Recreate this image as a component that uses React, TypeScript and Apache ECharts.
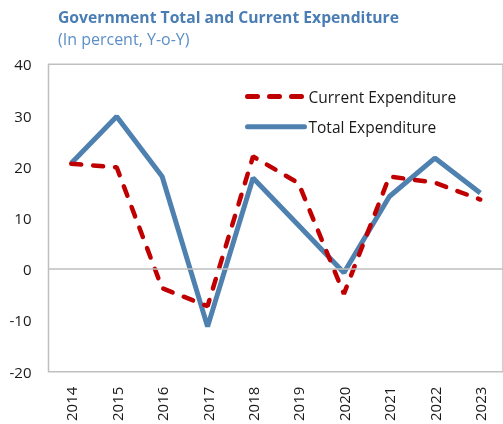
import React, { useEffect, useRef } from "react";
import * as echarts from "echarts";

const years = ["2014", "2015", "2016", "2017", "2018", "2019", "2020", "2021", "2022", "2023"];
const totalExp = [20.7, 29.8, 18.1, -11.2, 17.8, 8.6, -0.7, 14.2, 21.7, 14.9];
const currentExp = [20.6, 19.9, -3.7, -7.2, 22.0, 16.8, -4.8, 18.1, 16.9, 13.6];
const titleText = "Government Total and Current Expenditure";
const subtitleText = "(In percent, Y-o-Y)";

const FONT = "'Open Sans', 'Noto Sans', sans-serif";

export default function App() {
  const ref = useRef<HTMLDivElement>(null);
  useEffect(() => {
    if (!ref.current) return;
    const chart = echarts.init(ref.current, null, { renderer: "svg" });
    chart.setOption({
      animation: false,
      textStyle: { fontFamily: FONT },
      title: [
        {
          text: titleText,
          left: 58,
          top: 9,
          padding: 0,
          textStyle: { fontSize: 15.7, fontWeight: "bold", color: "#4a7db4", fontFamily: FONT },
        },
        {
          text: subtitleText,
          left: 58,
          top: 31,
          padding: 0,
          textStyle: { fontSize: 16, fontWeight: "normal", color: "#5b8fc6", fontFamily: FONT },
        },
      ],
      legend: {
        orient: "vertical",
        left: 245,
        top: 88.5,
        padding: 0,
        itemWidth: 57,
        itemHeight: 14,
        itemGap: 14.3,
        data: ["Current Expenditure", "Total Expenditure"],
        itemStyle: { opacity: 0, color: "transparent", borderWidth: 0 },
        lineStyle: { width: 5, cap: "round" },
        textStyle: { fontSize: 15.5, color: "#1a1a1a", fontFamily: FONT, padding: [0, 0, 0, -1] },
      },
      grid: { left: 48.5, top: 64.3, bottom: 50.7, right: -8.5, show: true, borderColor: "#bfbfbf", borderWidth: 1.5 },
      xAxis: {
        type: "category",
        data: years,
        boundaryGap: true,
        axisLine: { show: false },
        axisTick: { show: false },
        axisLabel: { rotate: 90, fontSize: 15, color: "#1a1a1a", margin: 15, fontFamily: FONT },
        splitLine: { show: false },
      },
      yAxis: {
        type: "value",
        min: -20,
        max: 40,
        interval: 10,
        axisLine: { show: false },
        axisTick: { show: false },
        splitLine: { show: false },
        axisLabel: { fontSize: 15, color: "#1a1a1a", margin: 17, fontFamily: FONT },
      },
      series: [
        {
          name: "Total Expenditure",
          type: "line",
          data: totalExp,
          symbol: "none",
          lineStyle: { color: "#4f81b0", width: 5 },
          itemStyle: { color: "#4f81b0" },
          markLine: {
            silent: true,
            symbol: "none",
            label: { show: false },
            lineStyle: { color: "#bfbfbf", width: 1.5, type: "solid" },
            data: [{ yAxis: 0 }],
          },
          z: 2,
        },
        {
          name: "Current Expenditure",
          type: "line",
          data: currentExp,
          symbol: "none",
          lineStyle: { color: "#c00000", width: 4.5, type: [10, 12], cap: "round" },
          itemStyle: { color: "#c00000" },
          z: 3,
        },
      ],
    });
    return () => chart.dispose();
  }, []);
  return <div ref={ref} style={{ position: "fixed", left: 0, top: 0, width: 503, height: 424 }} />;
}
